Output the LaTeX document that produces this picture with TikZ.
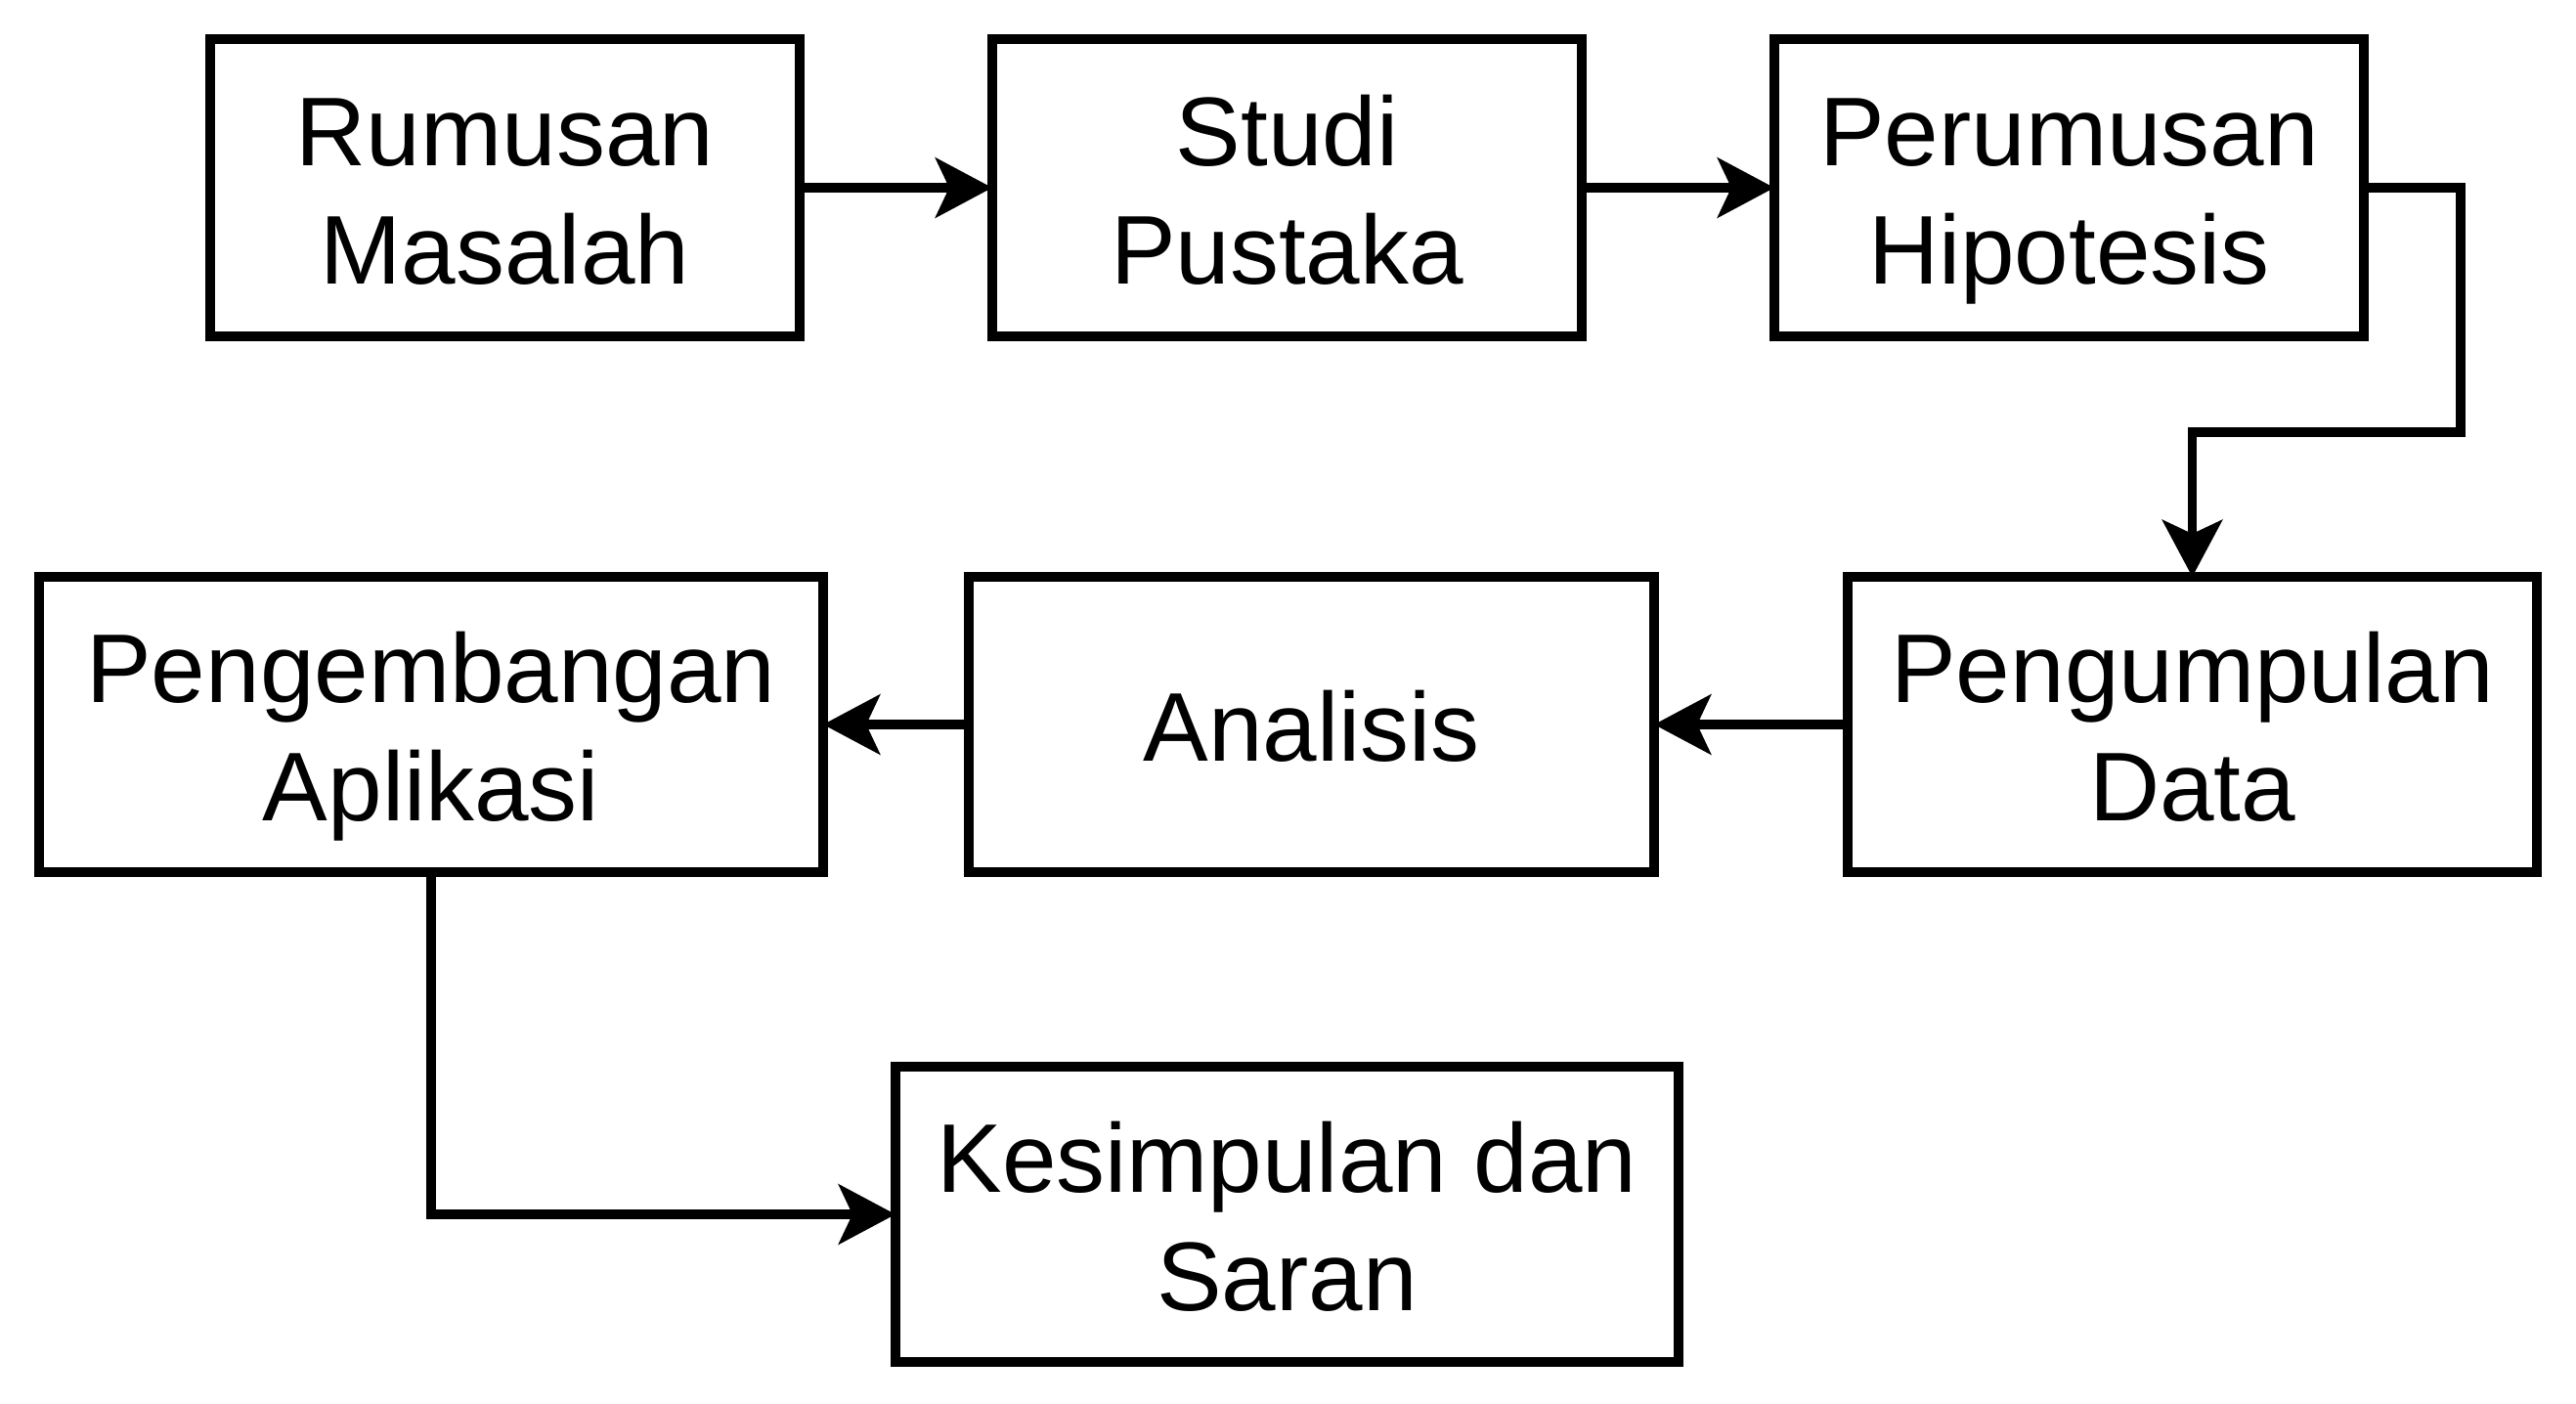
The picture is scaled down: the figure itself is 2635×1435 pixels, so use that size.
\documentclass[tikz,border=0pt]{standalone}
\usepackage{fontspec}
\setmainfont{Liberation Sans}
\usetikzlibrary{arrows.meta}
\newcommand\lnstrut{\rule[-6.3pt]{0pt}{34.2pt}}
\begin{document}
\begin{tikzpicture}[x=0.01cm,y=-0.01cm,
  box/.style={draw,line width=2.8pt,align=center,inner sep=0pt,outer sep=0pt,
    font=\fontsize{28.4pt}{34.2pt}\selectfont},
  conn/.style={line width=2.8pt,-{Stealth[length=0.58cm,width=0.61cm,inset=0.14cm]}}]
\useasboundingbox (0,0) rectangle (2635,1435);
\node[box,minimum width=603*0.01cm,minimum height=304*0.01cm] (rm) at (516.5,192) {\lnstrut Rumusan\\\lnstrut Masalah};
\node[box,minimum width=603*0.01cm,minimum height=304*0.01cm] (sp) at (1316.5,192) {\lnstrut Studi\\\lnstrut Pustaka};
\node[box,minimum width=603*0.01cm,minimum height=304*0.01cm] (ph) at (2116.5,192) {\lnstrut Perumusan\\\lnstrut Hipotesis};
\node[box,minimum width=705*0.01cm,minimum height=302*0.01cm] (pd) at (2242.5,741) {\lnstrut Pengumpulan\\\lnstrut Data};
\node[box,minimum width=701*0.01cm,minimum height=302*0.01cm] (an) at (1341.5,741) {\lnstrut Analisis};
\node[box,minimum width=802*0.01cm,minimum height=302*0.01cm] (pa) at (441,741) {\lnstrut Pengembangan\\\lnstrut Aplikasi};
\node[box,minimum width=801*0.01cm,minimum height=302*0.01cm] (ks) at (1316.5,1242) {\lnstrut Kesimpulan dan\\\lnstrut Saran};
\draw[conn] (rm.east) -- (sp.west);
\draw[conn] (sp.east) -- (ph.west);
\draw[conn] (ph.east) -- (2517,192) -- (2517,442) -- (pd.north |- 0,442) -- (pd.north);
\draw[conn] (pd.west) -- (an.east);
\draw[conn] (an.west) -- (pa.east);
\draw[conn] (pa.south) -- (pa.south |- ks.west) -- (ks.west);
\end{tikzpicture}
\end{document}
